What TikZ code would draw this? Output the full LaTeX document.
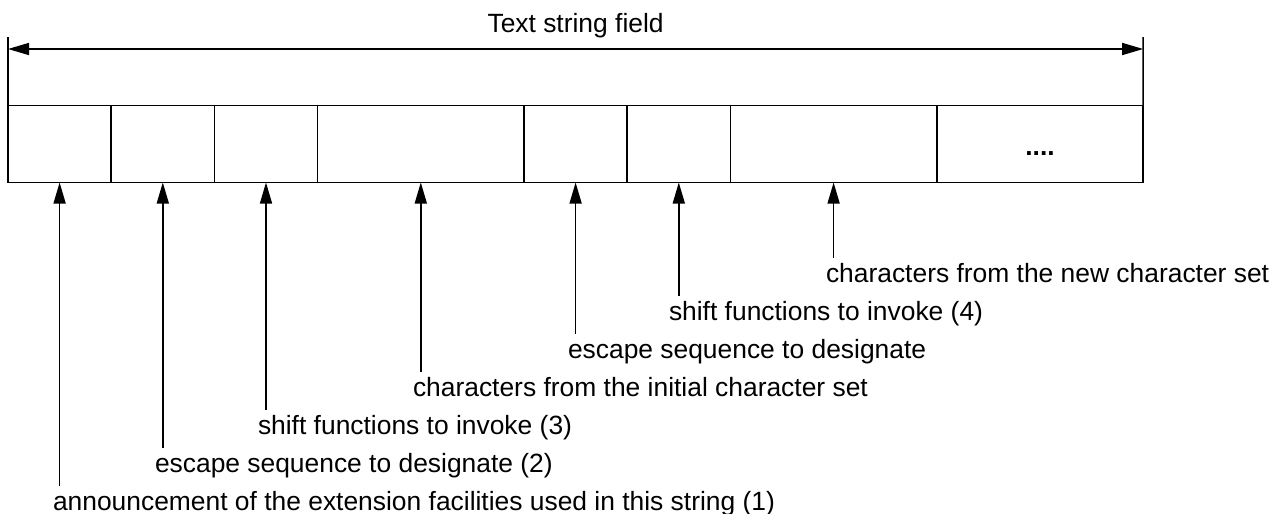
\documentclass[tikz,border=0pt]{standalone}
\usepackage{fontspec}
\setmainfont{Liberation Sans}
\usetikzlibrary{arrows.meta}
\begin{document}
\begin{tikzpicture}[x=1pt,y=-1pt,
  line width=1.5pt,
  cell/.style={draw, line width=1.5pt, anchor=north west, minimum height=77pt, inner sep=0pt, outer sep=0pt},
  lab/.style={anchor=base west, inner xsep=0pt, inner ysep=5pt, outer sep=0pt, font=\fontsize{26.4}{31}\selectfont},
  arr/.style={-{Triangle[length=21pt,width=12pt]}},
  dimarr/.style={{Triangle[length=21pt,width=12pt]}-{Triangle[length=21pt,width=12pt]}}
]
\useasboundingbox (0,0) rectangle (1280,514);
% cells
\node[cell, minimum width=103.2pt] (c1) at (8,105.5) {};
\node[cell, minimum width=103.2pt] (c2) at (c1.north east) {};
\node[cell, minimum width=103.2pt] (c3) at (c2.north east) {};
\node[cell, minimum width=206.4pt] (c4) at (c3.north east) {};
\node[cell, minimum width=103.2pt] (c5) at (c4.north east) {};
\node[cell, minimum width=103.2pt] (c6) at (c5.north east) {};
\node[cell, minimum width=206.4pt] (c7) at (c6.north east) {};
\node[cell, minimum width=206.4pt] (c8) at (c7.north east) {};
\node[font=\fontsize{26.4}{31}\selectfont\bfseries, anchor=base, inner sep=0pt] (dots) at (1040,155) {....};
% dimension
\coordinate (tl) at (8,37);
\coordinate (tr) at (1143.2,37);
\draw (c1.north west) -- (tl);
\draw (c8.north east) -- (tr);
\coordinate (al) at (8,49);
\coordinate (ar) at (1143.2,49);
\draw[dimarr] (al) -- (ar);
\node[font=\fontsize{26.4}{31}\selectfont, anchor=base, inner sep=0pt] (title) at (575.6,32) {Text string field};
% labels
\node[lab] (l7) at (826,282) {characters from the new character set};
\node[lab] (l6) at (669,320) {shift functions to invoke (4)};
\node[lab] (l5) at (568,358) {escape sequence to designate};
\node[lab] (l4) at (413,396) {characters from the initial character set};
\node[lab] (l3) at (258,434) {shift functions to invoke (3)};
\node[lab] (l2) at (155,472) {escape sequence to designate (2)};
\node[lab] (l1) at (53,510) {announcement of the extension facilities used in this string (1)};
% arrows
\draw[arr] (l1.north -| c1.south) -- (c1.south);
\draw[arr] (l2.north -| c2.south) -- (c2.south);
\draw[arr] (l3.north -| c3.south) -- (c3.south);
\draw[arr] (l4.north -| c4.south) -- (c4.south);
\draw[arr] (l5.north -| c5.south) -- (c5.south);
\draw[arr] (l6.north -| c6.south) -- (c6.south);
\draw[arr] (l7.north -| c7.south) -- (c7.south);
\end{tikzpicture}
\end{document}
